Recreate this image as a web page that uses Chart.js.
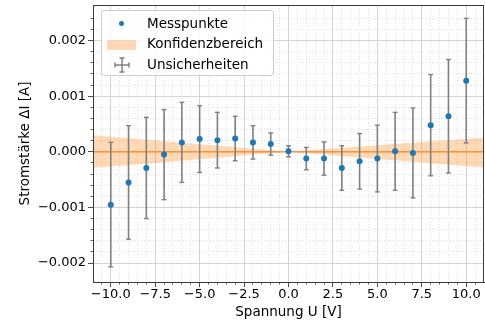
<!DOCTYPE html>
<html>
<head>
<meta charset="utf-8">
<script src="https://cdn.jsdelivr.net/npm/chart.js@4.4.0/dist/chart.umd.min.js"></script>
<style>
  body { margin: 0; background: #fff; }
  #wrap { position: relative; width: 485px; height: 322px; }
  #legende {
    position: absolute; left: 101px; top: 10px; width: 173px; height: 66px;
    background: rgba(255, 255, 255, 0.8); border: 1px solid #cccccc; border-radius: 3px;
    box-sizing: border-box; font-family: 'DejaVu Sans', sans-serif; font-size: 13.5px; color: #000;
  }
  #legende .zeile { position: absolute; left: 45px; height: 16px; line-height: 16px; white-space: nowrap; }
  #legende .icon { position: absolute; }
</style>
</head>
<body>
<div id="wrap">
  <canvas id="grafik" width="485" height="322"></canvas>
  <div id="legende">
    <div class="icon" style="left:16.5px;top:9.5px;width:5px;height:5px;border-radius:50%;background:#1f77b4;"></div>
    <div class="zeile" style="top:4px;">Messpunkte</div>
    <div class="icon" style="left:5px;top:29px;width:29px;height:10px;background:rgba(255,127,14,0.3);"></div>
    <div class="zeile" style="top:24px;">Konfidenzbereich</div>
    <svg class="icon" style="left:5px;top:44px;" width="30" height="20" viewBox="0 0 30 20">
      <g stroke="#808080" stroke-width="1.5" fill="none">
        <line x1="8" y1="10" x2="22" y2="10"/>
        <line x1="15" y1="3" x2="15" y2="17"/>
        <line x1="12.5" y1="3" x2="17.5" y2="3"/>
        <line x1="12.5" y1="17" x2="17.5" y2="17"/>
        <line x1="8" y1="7.5" x2="8" y2="12.5"/>
        <line x1="22" y1="7.5" x2="22" y2="12.5"/>
      </g>
    </svg>
    <div class="zeile" style="top:45px;">Unsicherheiten</div>
  </div>
</div>
<script>
// Messdaten
const spannung = [-10, -9, -8, -7, -6, -5, -4, -3, -2, -1, 0, 1, 2, 3, 4, 5, 6, 7, 8, 9, 10];
const strom = [-0.00095, -0.00055, -0.00029, -0.00005, 0.00017, 0.00023, 0.00021, 0.00024, 0.00017, 0.00014,
  0.00001, -0.00012, -0.00012, -0.00029, -0.00017, -0.00012, 0.00001, -0.00002, 0.00048, 0.00064, 0.00128];
const fehler = [0.00112, 0.00102, 0.00091, 0.00081, 0.00072, 0.0006, 0.0005, 0.0004, 0.0003, 0.0002,
  0.0001, 0.0002, 0.0003, 0.0004, 0.0005, 0.0006, 0.0007, 0.00081, 0.00091, 0.00102, 0.00112];

// Fit und Konfidenzband
const bandX = [-11, 0, 11];
const fitWerte = [0, 0, 0];
const bandOben = [0.0003, 0, 0.00026];
const bandUnten = [-0.00029, 0, -0.00028];

// Achsenbeschriftung
const xTickWerte = [-10, -7.5, -5, -2.5, 0, 2.5, 5, 7.5, 10];
const yTickWerte = [-0.002, -0.001, 0, 0.001, 0.002];

const xMin = -11, xMax = 11;
const yMin = -0.00234, yMax = 0.00264;

const minus = (s) => s.replace('-', '\u2212');
const tickSchrift = { family: 'DejaVu Sans', size: 13 };
const titelSchrift = { family: 'DejaVu Sans', size: 13.5 };
const achsenFarbe = '#3a3a3a';
const leer = 'rgba(0,0,0,0)';
const istVielfaches = (v, s) => Math.abs(v / s - Math.round(v / s)) < 1e-6;
const ohnePadding = (s) => { s.paddingLeft = 0; s.paddingRight = 0; s.paddingTop = 0; s.paddingBottom = 0; };

const punkte = spannung.map((u, i) => ({ x: u, y: strom[i] }));
const fehlerbalken = [];
spannung.forEach((u, i) => {
  fehlerbalken.push({ x: u, y: strom[i] - fehler[i] });
  fehlerbalken.push({ x: u, y: strom[i] + fehler[i] });
  fehlerbalken.push({ x: u, y: null });
});
const zuPunkten = (werte) => bandX.map((x, i) => ({ x: x, y: werte[i] }));

// Rahmen um die Zeichenfläche (wie die Spines in matplotlib)
const rahmen = {
  id: 'rahmen',
  afterDatasetsDraw(chart) {
    const { ctx, chartArea: a } = chart;
    ctx.save();
    ctx.strokeStyle = achsenFarbe;
    ctx.lineWidth = 1;
    ctx.strokeRect(Math.round(a.left) + 0.5, Math.round(a.top) + 0.5, Math.round(a.right - a.left) - 1, Math.round(a.bottom - a.top));
    ctx.restore();
  },
};

// Nebenlinien: nur zwischen den Hauptticks
const nebenFarbe = (schritt, gross, grenze, farbe) => (c) => {
  if (!c.tick) return leer;
  const v = c.tick.value;
  if (istVielfaches(v, gross) || !istVielfaches(v, schritt) || Math.abs(v) >= grenze) return leer;
  return farbe;
};

const ctx = document.getElementById('grafik').getContext('2d');
new Chart(ctx, {
  type: 'scatter',
  data: {
    datasets: [
      {
        label: 'Messpunkte',
        data: punkte,
        backgroundColor: '#1f77b4',
        borderWidth: 0,
        pointRadius: 3,
        order: 0,
      },
      {
        label: 'Unsicherheiten',
        type: 'line',
        data: fehlerbalken,
        borderColor: '#808080',
        borderWidth: 1.6,
        pointStyle: 'line',
        pointRadius: 2.4,
        pointBorderColor: '#808080',
        pointBorderWidth: 1.4,
        spanGaps: false,
        order: 1,
      },
      {
        label: 'Fit',
        type: 'line',
        data: zuPunkten(fitWerte),
        borderColor: 'rgba(255,127,14,0.6)',
        borderWidth: 1.6,
        pointRadius: 0,
        order: 2,
      },
      {
        label: 'Konfidenzbereich',
        type: 'line',
        data: zuPunkten(bandOben),
        borderWidth: 0,
        pointRadius: 0,
        backgroundColor: 'rgba(255,127,14,0.3)',
        fill: '+1',
        order: 3,
      },
      {
        label: 'Band unten',
        type: 'line',
        data: zuPunkten(bandUnten),
        borderWidth: 0,
        pointRadius: 0,
        fill: false,
        order: 4,
      },
    ],
  },
  options: {
    responsive: false,
    animation: false,
    devicePixelRatio: 1,
    layout: { autoPadding: false, padding: { left: 0, right: 1, top: 5, bottom: 0 } },
    plugins: { legend: { display: false }, tooltip: { enabled: false } },
    scales: {
      x: {
        type: 'linear', position: 'bottom', weight: 1, min: xMin, max: xMax,
        afterBuildTicks: (s) => { s.ticks = xTickWerte.map((v) => ({ value: v })); },
        afterFit: (s) => { s.height = 40; ohnePadding(s); },
        ticks: {
          autoSkip: false, maxRotation: 0, font: tickSchrift, color: '#000', padding: 0,
          callback: (v) => minus(Number(v).toFixed(1)),
        },
        grid: { color: '#cfcfcf', lineWidth: 0.9, tickLength: 5, tickColor: achsenFarbe },
        border: { color: achsenFarbe, width: 1 },
        title: { display: true, text: 'Spannung U [V]', font: titelSchrift, color: '#000', padding: { top: 0, bottom: 1 } },
      },
      y: {
        type: 'linear', position: 'left', weight: 1, min: yMin, max: yMax,
        afterBuildTicks: (s) => { s.ticks = yTickWerte.map((v) => ({ value: v })); },
        afterFit: (s) => { s.width = 93; ohnePadding(s); },
        ticks: {
          autoSkip: false, font: tickSchrift, color: '#000', padding: 2,
          callback: (v) => minus(Number(v).toFixed(3)),
        },
        grid: { color: '#cfcfcf', lineWidth: 0.9, tickLength: 5, tickColor: achsenFarbe },
        border: { color: achsenFarbe, width: 1 },
        title: { display: true, text: 'Stromstärke ΔI [A]', font: titelSchrift, color: '#000', padding: { top: 17, bottom: 0 } },
      },
      xNeben: {
        type: 'linear', position: 'bottom', weight: 0, min: xMin, max: xMax,
        afterFit: (s) => { s.height = 0; ohnePadding(s); },
        ticks: { display: false, stepSize: 0.5 },
        grid: {
          drawTicks: true, tickLength: 2.5, lineWidth: 0.8,
          color: nebenFarbe(0.5, 2.5, 11, '#d6d6d6'),
          tickColor: nebenFarbe(0.5, 2.5, 11, achsenFarbe),
        },
        border: { display: false, dash: [1, 2] },
      },
      yNeben: {
        type: 'linear', position: 'left', weight: 0, min: yMin, max: yMax,
        afterFit: (s) => { s.width = 0; ohnePadding(s); },
        ticks: { display: false, stepSize: 0.0002 },
        grid: {
          drawTicks: true, tickLength: 2.5, lineWidth: 0.8,
          color: nebenFarbe(0.0002, 0.001, 1, '#d6d6d6'),
          tickColor: nebenFarbe(0.0002, 0.001, 1, achsenFarbe),
        },
        border: { display: false, dash: [1, 2] },
      },
    },
  },
  plugins: [rahmen],
});
</script>
</body>
</html>
